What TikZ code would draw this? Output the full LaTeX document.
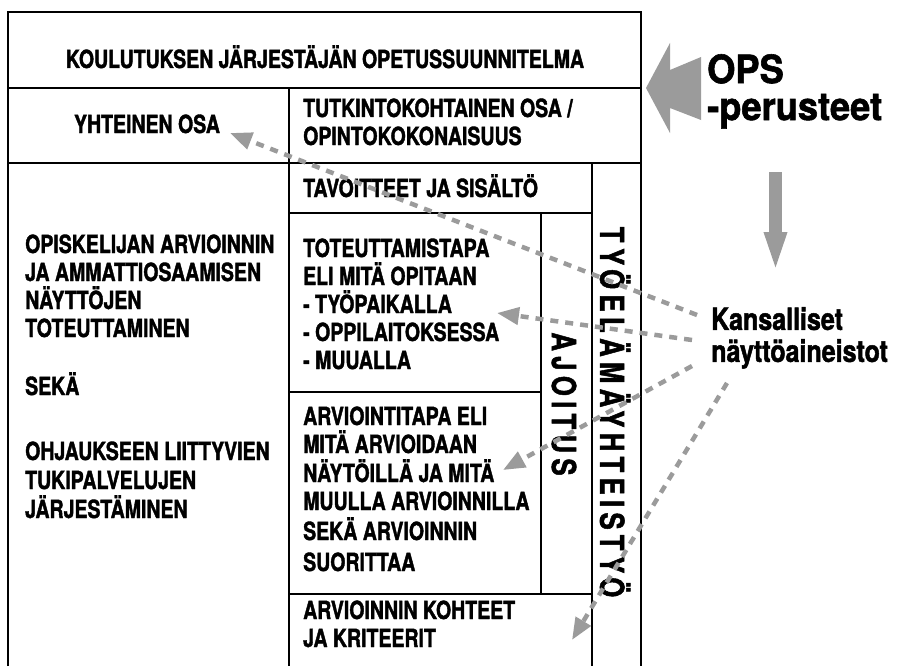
\documentclass[tikz,border=0pt]{standalone}
\usepackage{fontspec}
\setmainfont{TeX Gyre Heros}[FakeStretch=0.78, BoldFeatures={FakeBold=1.5}]
\newfontfamily\opsfont{TeX Gyre Heros}[FakeStretch=0.93, BoldFeatures={FakeBold=1.5}]
\newfontfamily\kansfont{TeX Gyre Heros}[FakeStretch=0.82, BoldFeatures={FakeBold=1.5}]
\usepackage{tikz}
\usetikzlibrary{positioning}
\usetikzlibrary{arrows.meta,calc}
\definecolor{arrowgray}{RGB}{155,155,155}
\tikzstyle{frame}=[draw=black,line width=1.6pt]
\tikzstyle{boxtext}=[anchor=base west,inner sep=0pt,font=\fontsize{25}{28}\selectfont\bfseries]
\tikzstyle{centertext}=[anchor=base,inner sep=0pt,font=\fontsize{25}{28}\selectfont\bfseries]
\tikzstyle{sidetext}=[rotate=-90,inner sep=0pt,font=\fontsize{33}{33}\selectfont\bfseries\addfontfeature{LetterSpace=16}]
\tikzstyle{bigtext}=[anchor=north west,align=left,inner sep=0pt,font=\opsfont\fontsize{39}{37}\selectfont\bfseries]
\tikzstyle{midtext}=[anchor=north west,align=left,inner sep=0pt,font=\kansfont\fontsize{30.5}{32}\selectfont\bfseries]
\tikzstyle{dashedge}=[draw=arrowgray,line width=4.5pt,dash pattern=on 8pt off 7pt,-{Triangle[length=22pt,width=17pt]}]
\tikzstyle{fatedge}=[draw=arrowgray,line width=13pt,-{Triangle[length=46pt,width=19pt]}]

\begin{document}
\begin{tikzpicture}[x=1pt,y=-1pt]
    \useasboundingbox (0,0) rectangle (901,666);

    % frame and boxes
    \draw[frame] (8,666) -- (8,12) -- (641,12) -- (641,666);
    \foreach \from/\to in {{(8,88)/(641,88)}, {(8,163)/(641,163)}, {(289,88)/(289,666)}, {(592,163)/(592,666)},
                           {(289,213)/(592,213)}, {(541,213)/(541,594)}, {(289,392)/(541,392)}, {(289,594)/(592,594)}}
        \draw[frame] \from -- \to;

    \node[centertext] (title) at (325,68) {KOULUTUKSEN JÄRJESTÄJÄN OPETUSSUUNNITELMA};
    \node[centertext] (yhteinen) at (147,133) {YHTEINEN OSA};

    \foreach \pos/\name/\txt in {{(303,117)/tutk1/{TUTKINTOKOHTAINEN OSA /}}, {(303,145)/tutk2/OPINTOKOKONAISUUS},
                                 {(303,197)/tavoite/TAVOITTEET JA SISÄLTÖ},
                                 {(303,257)/tot1/TOTEUTTAMISTAPA}, {(303,285)/tot2/ELI MITÄ OPITAAN}, {(303,313)/tot3/- TYÖPAIKALLA},
                                 {(303,341)/tot4/- OPPILAITOKSESSA}, {(303,369)/tot5/- MUUALLA},
                                 {(303,425)/arv1/ARVIOINTITAPA ELI}, {(303,453)/arv2/MITÄ ARVIOIDAAN}, {(303,482)/arv3/NÄYTÖILLÄ JA MITÄ},
                                 {(303,510)/arv4/MUULLA ARVIOINNILLA}, {(303,540)/arv5/SEKÄ ARVIOINNIN}, {(303,571)/arv6/SUORITTAA},
                                 {(303,619)/krit1/ARVIOINNIN KOHTEET}, {(303,647)/krit2/JA KRITEERIT}}
        \node[boxtext] (\name) at \pos {\txt};

    \foreach \pos/\name/\txt in {{(25,253)/opis1/OPISKELIJAN ARVIOINNIN}, {(25,281)/opis2/JA AMMATTIOSAAMISEN},
                                 {(25,309)/opis3/NÄYTTÖJEN}, {(25,337)/opis4/TOTEUTTAMINEN}, {(25,395)/seka/SEKÄ},
                                 {(25,460)/ohj1/OHJAUKSEEN LIITTYVIEN}, {(25,489)/ohj2/TUKIPALVELUJEN}, {(25,518)/ohj3/JÄRJESTÄMINEN}}
        \node[boxtext] (\name) at \pos {\txt};

    \node[sidetext] (tyoelama) at (615,412) {TYÖELÄMÄYHTEISTYÖ};
    \node[sidetext] (ajoitus) at (564,404) {AJOITUS};

    % right side
    \node[bigtext] (ops) at (707,54) {OPS\\-perusteet};
    \node[midtext] (kans) at (711,307) {Kansalliset\\näyttöaineistot};

    \fill[arrowgray] (646,88) -- (670,43) -- (670,70) -- (701,57) -- (701,120) -- (670,108) -- (670,133) -- cycle;

    \coordinate (opsFoot) at (775.5,172);
    \coordinate (kansHead) at (775.5,278);
    \path[fatedge] (opsFoot) -- (kansHead);

    % dashed arrows from the national material
    \coordinate (k1) at (697,315);
    \coordinate (k2) at (692,340);
    \coordinate (k3) at (692,366);
    \coordinate (k4) at (727,383);
    \coordinate (yhtTip) at (230,133);
    \coordinate (totTip) at (497,313);
    \coordinate (arvTip) at (503,470);
    \coordinate (kritTip) at (572,640);

    \foreach \source/\dest in {k1/yhtTip, k2/totTip, k3/arvTip, k4/kritTip}
        \path[dashedge] (\source) -- (\dest);

\end{tikzpicture}
\end{document}
